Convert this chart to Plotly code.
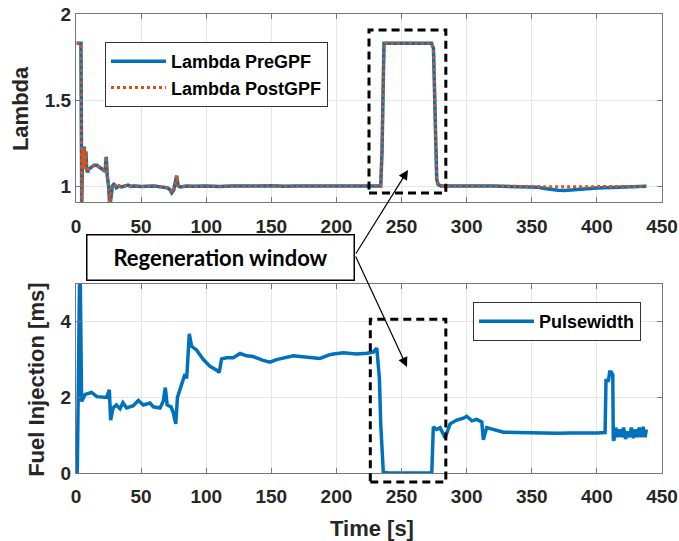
import plotly.graph_objects as go

# ---------------- data ----------------
lam_t = [0.5, 1.0, 3.8, 4.4, 5.2, 5.8, 6.4, 7.0, 7.6, 8.2, 8.8, 10, 12, 14, 16, 18, 20,
         21.5, 22.5, 23.2, 24, 25, 26, 27, 28, 29, 30, 31, 33, 35, 37, 40, 42, 45, 50,
         55, 60, 65, 70, 72, 73.5, 75, 76, 77.3, 78.5, 80, 85, 90, 100, 110, 120, 130,
         140, 150, 160, 170, 180, 190, 200, 210, 220, 230, 234, 235, 235.8, 236.5, 245,
         255, 265, 273, 274.5, 275.5, 276.3, 277, 278, 280, 290, 300, 310, 320, 330, 340,
         350, 355, 360, 365, 370, 375, 380, 390, 400, 410, 420, 430, 438]
lam_pre = [1.83, 1.83, 1.83, 0.90, 1.22, 1.10, 1.23, 1.10, 1.20, 1.10, 1.08, 1.10, 1.11,
           1.12, 1.12, 1.11, 1.10, 1.09, 1.10, 1.17, 1.06, 1.00, 0.88, 0.97, 1.00, 1.01,
           1.005, 0.99, 1.00, 0.995, 1.00, 1.005, 0.998, 1.00, 0.997, 1.00, 1.00, 0.995,
           0.99, 0.98, 0.96, 0.975, 1.02, 1.06, 1.00, 0.995, 1.00, 0.998, 1.00, 0.997,
           1.00, 0.998, 1.00, 1.002, 0.998, 1.00, 1.00, 0.998, 1.00, 1.00, 1.002, 1.00,
           1.00, 1.20, 1.60, 1.83, 1.83, 1.83, 1.83, 1.83, 1.80, 1.55, 1.20, 1.04, 1.01,
           1.00, 1.00, 0.998, 1.00, 1.00, 0.998, 1.00, 0.997, 0.993, 0.985, 0.978, 0.975,
           0.974, 0.978, 0.983, 0.988, 0.992, 0.995, 0.997, 0.998]
lam_post = [1.83, 1.83, 1.83, 0.90, 1.22, 1.10, 1.23, 1.10, 1.20, 1.10, 1.08, 1.10, 1.11,
            1.12, 1.12, 1.11, 1.10, 1.09, 1.10, 1.17, 1.06, 1.00, 0.88, 0.97, 1.00, 1.01,
            1.005, 0.99, 1.00, 0.995, 1.00, 1.005, 0.998, 1.00, 0.997, 1.00, 1.00, 0.995,
            0.99, 0.98, 0.96, 0.975, 1.02, 1.06, 1.00, 0.995, 1.00, 0.998, 1.00, 0.997,
            1.00, 0.998, 1.00, 1.002, 0.998, 1.00, 1.00, 0.998, 1.00, 1.00, 1.002, 1.00,
            1.00, 1.20, 1.60, 1.83, 1.83, 1.83, 1.83, 1.83, 1.80, 1.55, 1.20, 1.04, 1.01,
            1.00, 1.00, 0.998, 1.00, 1.00, 0.998, 1.00, 0.998, 0.997, 0.996, 0.995, 0.995,
            0.995, 0.996, 0.996, 0.997, 0.997, 0.998, 0.998, 0.998]

pw_t = [1.0, 3.0, 4.3, 7, 12, 16, 23.5, 25.6, 26.6, 28.5, 31, 33.8, 36, 38.9, 44, 47.9,
        51.7, 56.8, 59.4, 64.5, 67, 68.6, 70, 73, 74.7, 76.6, 77.9, 79.9, 82, 83.7, 85,
        87, 88.8, 92.7, 97.8, 102.9, 108, 110, 111.8, 115.7, 120.8, 126, 131, 136, 143.6,
        149, 154, 161.8, 167, 172, 179.8, 187.4, 193.8, 197.6, 205.3, 215.6, 223.3, 228.4,
        231, 233, 234, 234.8, 236, 240, 250, 260, 270, 273.2, 274.4, 277, 279.6, 283.4,
        287.3, 292.4, 297.5, 300, 304, 307.7, 311.6, 312.8, 315.4, 320.5, 328.2, 338, 350,
        360, 370, 380, 390, 400, 406.3, 407, 408.9, 409.8, 411, 412.2, 412.6, 413, 414.5,
        416, 417.5, 419, 420.5, 422, 423.5, 425, 426.5, 428, 429.5, 431, 432.5, 434, 435.5,
        437, 438]
pw_v = [0.0, 6.0, 1.89, 2.08, 2.13, 2.02, 2.00, 2.20, 1.40, 1.72, 1.80, 1.70, 1.86, 1.72,
        1.78, 1.92, 1.80, 1.85, 1.75, 1.72, 1.90, 2.26, 1.80, 1.75, 1.60, 1.30, 2.00, 2.20,
        2.42, 2.62, 2.50, 3.68, 3.35, 3.25, 3.00, 2.82, 2.72, 2.66, 3.02, 3.05, 3.05, 3.16,
        3.10, 3.08, 2.98, 2.93, 3.00, 3.05, 3.10, 3.08, 3.05, 3.03, 3.12, 3.15, 3.18, 3.15,
        3.17, 3.20, 3.30, 2.50, 1.30, 0.72, 0.02, 0.0, 0.0, 0.0, 0.0, 0.0, 1.22, 1.15, 1.20,
        0.93, 1.30, 1.40, 1.45, 1.50, 1.38, 1.42, 1.35, 0.88, 1.20, 1.15, 1.08, 1.07, 1.06,
        1.07, 1.05, 1.06, 1.05, 1.06, 1.07, 2.45, 2.45, 2.67, 2.67, 2.60, 0.90, 0.85, 1.20,
        0.95, 1.15, 0.95, 1.20, 0.90, 1.10, 0.95, 1.20, 0.92, 1.15, 0.95, 1.20, 0.95, 1.22,
        0.95, 1.15]

x_ticks = [0, 50, 100, 150, 200, 250, 300, 350, 400, 450]
lam_ticks = [1, 1.5, 2]
pw_ticks = [0, 2, 4]

X_RANGE = [0, 450]
LAM_RANGE = [0.907, 2.0]
PW_RANGE = [0, 5.0]
TOP_DOM = [0.5904, 1.0]
BOT_DOM = [0.0, 0.4118]

BLUE = "#0072BD"
ORANGE = "#D95319"
FONT = "Liberation Sans, Arial, sans-serif"
TXT = "#262626"

fig = go.Figure()
fig.add_trace(go.Scatter(x=lam_t, y=lam_pre, mode="lines", name="Lambda PreGPF",
                         line=dict(color=BLUE, width=3.5), xaxis="x", yaxis="y",
                         legend="legend"))
fig.add_trace(go.Scatter(x=lam_t, y=lam_post, mode="lines", name="Lambda PostGPF",
                         line=dict(color=ORANGE, width=3, dash="dot"), xaxis="x", yaxis="y",
                         legend="legend"))
fig.add_trace(go.Scatter(x=pw_t, y=pw_v, mode="lines", name="Pulsewidth",
                         line=dict(color=BLUE, width=3.5), xaxis="x2", yaxis="y2",
                         legend="legend2"))

axis_common = dict(showline=True, linecolor="#777777", linewidth=1, mirror="ticks",
                   ticks="inside", ticklen=5, tickcolor="#777777", automargin=False,
                   showgrid=True, gridcolor="#e6e6e6", gridwidth=1, zeroline=False,
                   tickfont=dict(family=FONT, size=19, color=TXT, weight="bold"))

fig.update_layout(
    width=679, height=541,
    margin=dict(l=76, r=17, t=14, b=68, autoexpand=False),
    paper_bgcolor="white", plot_bgcolor="white",
    showlegend=True,
    xaxis=dict(domain=[0, 1], range=X_RANGE, tickvals=x_ticks, anchor="y",
               ticklabelstandoff=7, **axis_common),
    yaxis=dict(domain=TOP_DOM, range=LAM_RANGE, tickvals=lam_ticks, anchor="x",
               ticktext=["1", "1.5", "2"], **axis_common),
    xaxis2=dict(domain=[0, 1], range=X_RANGE, tickvals=x_ticks, anchor="y2",
                ticklabelstandoff=6, **axis_common),
    yaxis2=dict(domain=BOT_DOM, range=PW_RANGE, tickvals=pw_ticks, anchor="x2", **axis_common),
    legend=dict(x=(105 - 76) / 586, y=(473 - 42) / 459, xanchor="left", yanchor="top",
                bgcolor="white", bordercolor="#333333", borderwidth=1, itemwidth=55,
                font=dict(family=FONT, size=18, color="black", weight="bold"),
                tracegroupgap=0),
    legend2=dict(x=(473 - 76) / 586, y=(473 - 302) / 459, xanchor="left", yanchor="top",
                 bgcolor="white", bordercolor="#333333", borderwidth=1, itemwidth=55,
                 font=dict(family=FONT, size=18, color="black", weight="bold")),
)

# helpers to convert data coordinates into paper coordinates (for unclipped overlays)
def xp(v):
    return (v - X_RANGE[0]) / (X_RANGE[1] - X_RANGE[0])

def yp_top(v):
    return TOP_DOM[0] + (v - LAM_RANGE[0]) / (LAM_RANGE[1] - LAM_RANGE[0]) * (TOP_DOM[1] - TOP_DOM[0])

def yp_bot(v):
    return BOT_DOM[0] + (v - PW_RANGE[0]) / (PW_RANGE[1] - PW_RANGE[0]) * (BOT_DOM[1] - BOT_DOM[0])

# regeneration window dashed boxes
win = [225, 284]
dash_line = dict(color="black", width=3, dash="8px,5px")
fig.add_shape(type="rect", xref="paper", yref="paper",
              x0=xp(win[0]), x1=xp(win[1]), y0=yp_top(0.96), y1=yp_top(1.907),
              line=dash_line, layer="above")
fig.add_shape(type="rect", xref="paper", yref="paper",
              x0=xp(win[0] + 1), x1=xp(win[1]), y0=yp_bot(-0.24), y1=yp_bot(4.07),
              line=dash_line, layer="above")

# axis titles
title_font = dict(family=FONT, size=22, color=TXT, weight="bold")
fig.add_annotation(text="Lambda", xref="paper", yref="paper", x=(20 - 76) / 586, y=0.795,
                   textangle=-90, showarrow=False, xanchor="center", yanchor="middle",
                   font=title_font)
fig.add_annotation(text="Fuel Injection [ms]", xref="paper", yref="paper",
                   x=(37 - 76) / 586, y=0.203, textangle=-90, showarrow=False,
                   xanchor="center", yanchor="middle", font=title_font)
fig.add_annotation(text="Time [s]", xref="paper", yref="paper", x=(372 - 76) / 586,
                   y=(473 - 528) / 459, showarrow=False, xanchor="center", yanchor="middle",
                   font=title_font)

# arrows from the label box
box_right, box_mid = 355, 255
for tip in [(408, 170), (407, 367)]:
    fig.add_annotation(text="", xref="paper", yref="paper",
                       x=(tip[0] - 76) / 586, y=(473 - tip[1]) / 459,
                       ax=box_right - tip[0], ay=box_mid - tip[1],
                       showarrow=True, arrowhead=2, arrowsize=1.6, arrowwidth=1.2,
                       arrowcolor="black")

# label box
fig.add_annotation(text="Regeneration window", xref="paper", yref="paper",
                   x=(220.5 - 76) / 586, y=(473 - 257.5) / 459, showarrow=False,
                   xanchor="center", yanchor="middle",
                   width=266, height=44, bgcolor="white", bordercolor="black",
                   borderwidth=1.5, borderpad=0,
                   font=dict(family="Lato, sans-serif", size=22, color="black", weight="bold"))

fig.write_html("out.html", config={"displayModeBar": False},
               post_script="document.body.style.margin='0';document.body.style.padding='0';")
